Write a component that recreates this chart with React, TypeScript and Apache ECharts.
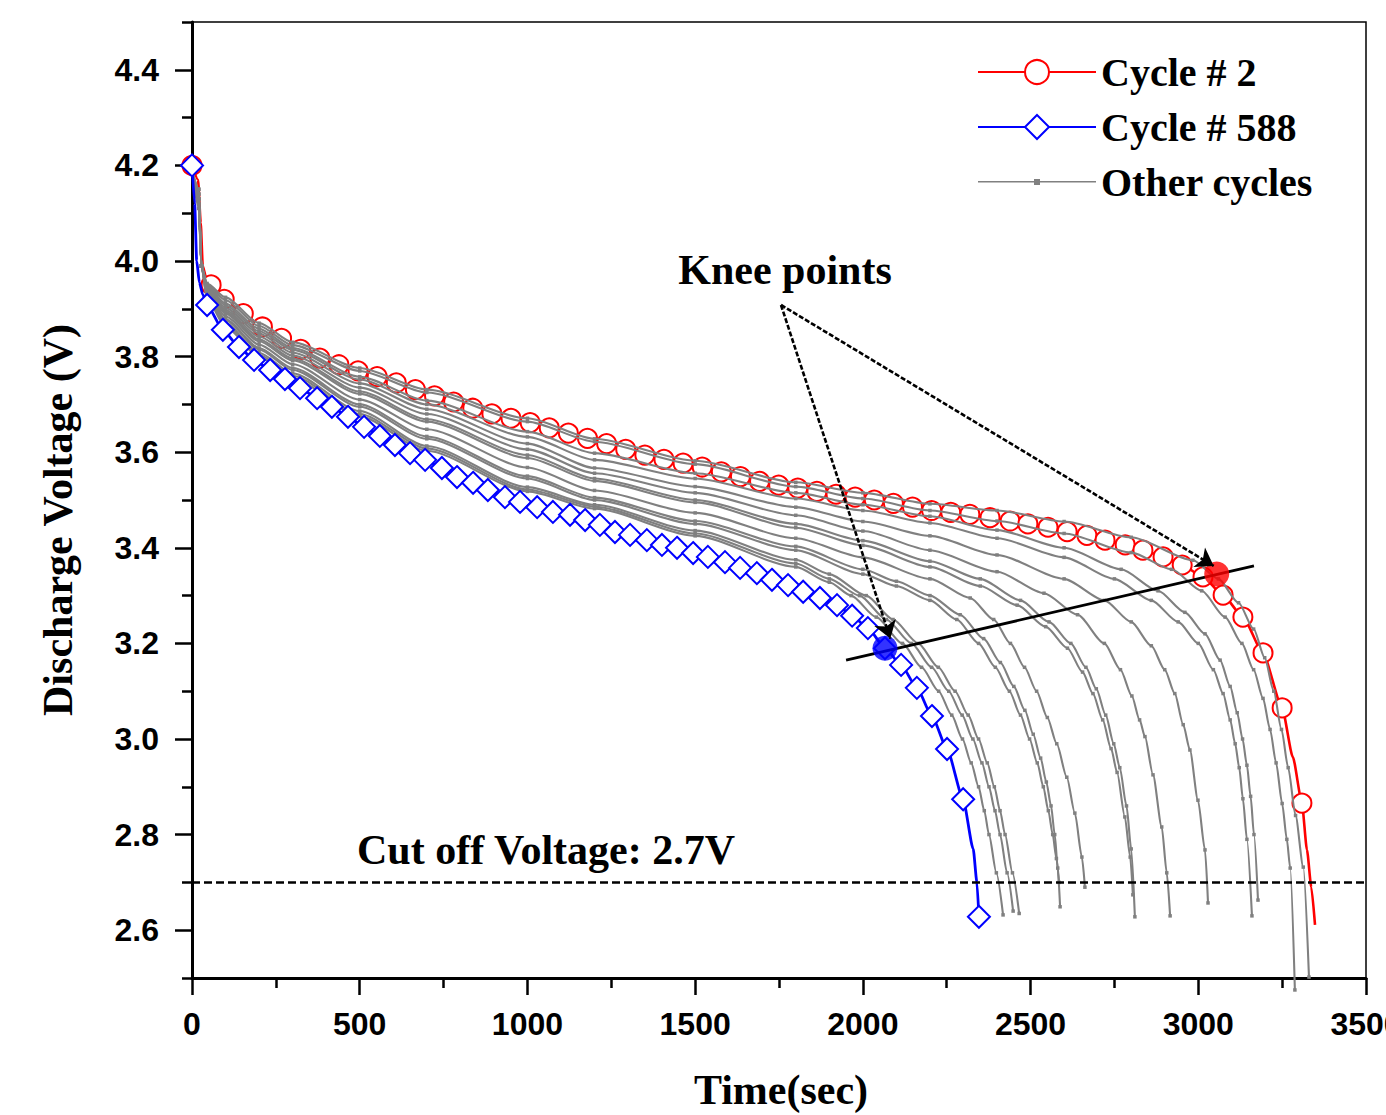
import React, { useEffect, useRef } from "react";
import * as echarts from "echarts";

// ---------- axis ticks ----------
const xTicks = [0, 500, 1000, 1500, 2000, 2500, 3000, 3500];
const yMajorTicks = [2.6, 2.8, 3.0, 3.2, 3.4, 3.6, 3.8, 4.0, 4.2, 4.4];
const yMinorTicks = [2.5, 2.7, 2.9, 3.1, 3.3, 3.5, 3.7, 3.9, 4.1, 4.3, 4.5];

// ---------- Cycle # 2 (time s, voltage V) ----------
const cycle2: number[][] = [
  [0, 4.2], [18, 4.17], [26, 4.08], [32, 3.99], [42, 3.965], [57, 3.95], [96, 3.92], [153, 3.89],
  [210, 3.862], [267, 3.838], [324, 3.815], [381, 3.797], [438, 3.783], [495, 3.77], [552, 3.758],
  [609, 3.745], [666, 3.731], [723, 3.718], [780, 3.705], [837, 3.692], [894, 3.68], [951, 3.671],
  [1008, 3.662], [1065, 3.651], [1122, 3.64], [1179, 3.629], [1236, 3.618], [1293, 3.606],
  [1350, 3.594], [1407, 3.585], [1464, 3.577], [1521, 3.569], [1578, 3.559], [1635, 3.549],
  [1692, 3.539], [1749, 3.531], [1806, 3.525], [1863, 3.518], [1920, 3.512], [1977, 3.506],
  [2034, 3.5], [2091, 3.493], [2148, 3.485], [2205, 3.478], [2262, 3.474], [2319, 3.47],
  [2379, 3.463], [2439, 3.456], [2492, 3.45], [2552, 3.443], [2609, 3.434], [2668, 3.426],
  [2722, 3.416], [2782, 3.406], [2835, 3.395], [2895, 3.381], [2952, 3.364], [3014, 3.339],
  [3074, 3.301], [3133, 3.255], [3193, 3.18], [3250, 3.065], [3282, 2.962], [3309, 2.866],
  [3324, 2.768], [3337, 2.69], [3348, 2.611],
];
const cycle2NoMarker = [18, 26, 32, 42, 3282, 3324, 3337, 3348];

// ---------- Cycle # 588 ----------
const cycle588: number[][] = [
  [0, 4.2], [8, 4.12], [14, 4.0], [22, 3.955], [32, 3.93], [45, 3.908], [92, 3.856], [140, 3.82],
  [185, 3.793], [233, 3.772], [277, 3.753], [322, 3.734], [373, 3.713], [417, 3.695], [465, 3.674],
  [513, 3.653], [560, 3.634], [605, 3.615], [650, 3.598], [695, 3.584], [745, 3.567], [790, 3.548],
  [838, 3.536], [882, 3.521], [933, 3.506], [978, 3.496], [1029, 3.485], [1076, 3.475],
  [1127, 3.469], [1172, 3.458], [1216, 3.448], [1261, 3.433], [1306, 3.427], [1356, 3.416],
  [1401, 3.406], [1446, 3.4], [1494, 3.389], [1538, 3.381], [1589, 3.37], [1634, 3.358],
  [1684, 3.347], [1729, 3.333], [1777, 3.322], [1822, 3.308], [1872, 3.295], [1923, 3.28],
  [1968, 3.258], [2015, 3.232], [2066, 3.19], [2114, 3.155], [2161, 3.107], [2206, 3.048],
  [2251, 2.979], [2299, 2.874], [2329, 2.77], [2340, 2.7], [2346, 2.628],
];
const cycle588NoMarker = [8, 14, 22, 32, 2329, 2340];

// ---------- Other cycles ----------
const other01 = [[0, 4.19], [20, 4.11], [28, 3.99], [45, 3.92], [100, 3.862], [200, 3.8], [300, 3.755], [500, 3.675], [700, 3.603], [1000, 3.518], [1200, 3.482], [1500, 3.425], [1800, 3.36], [1900, 3.328], [1965, 3.3], [2040, 3.255], [2118, 3.2], [2175, 3.15], [2226, 3.1], [2265, 3.05], [2297, 3.0], [2323, 2.95], [2345, 2.9], [2362, 2.85], [2376, 2.8], [2398, 2.72], [2418, 2.632]];
const other02 = [[0, 4.19], [20, 4.12], [28, 3.99], [45, 3.922], [100, 3.866], [200, 3.804], [300, 3.76], [500, 3.68], [700, 3.608], [1000, 3.522], [1200, 3.486], [1500, 3.43], [1800, 3.367], [1900, 3.335], [1990, 3.3], [2070, 3.25], [2145, 3.2], [2205, 3.15], [2256, 3.1], [2296, 3.05], [2328, 3.0], [2355, 2.95], [2376, 2.9], [2394, 2.85], [2409, 2.8], [2430, 2.72], [2448, 2.64]];
const other03 = [[0, 4.19], [20, 4.12], [28, 3.99], [45, 3.924], [100, 3.87], [200, 3.808], [300, 3.765], [500, 3.686], [700, 3.613], [1000, 3.527], [1200, 3.49], [1500, 3.436], [1800, 3.375], [1900, 3.345], [2010, 3.3], [2090, 3.25], [2165, 3.2], [2225, 3.15], [2275, 3.1], [2314, 3.05], [2345, 3.0], [2371, 2.95], [2392, 2.9], [2409, 2.85], [2424, 2.8], [2446, 2.72], [2466, 2.635]];
const other04 = [[0, 4.19], [20, 4.13], [28, 3.99], [45, 3.928], [100, 3.876], [200, 3.815], [300, 3.772], [500, 3.695], [700, 3.628], [1000, 3.545], [1200, 3.5], [1500, 3.45], [1800, 3.395], [2000, 3.345], [2100, 3.32], [2200, 3.29], [2280, 3.25], [2345, 3.2], [2395, 3.15], [2437, 3.1], [2470, 3.05], [2497, 3.0], [2520, 2.95], [2538, 2.9], [2553, 2.85], [2566, 2.8], [2577, 2.75], [2585, 2.7]];
const other05 = [[0, 4.19], [20, 4.13], [28, 3.99], [45, 3.93], [100, 3.878], [200, 3.818], [300, 3.776], [500, 3.7], [700, 3.633], [1000, 3.55], [1200, 3.505], [1500, 3.456], [1800, 3.403], [2000, 3.355], [2100, 3.33], [2200, 3.3], [2290, 3.26], [2360, 3.21], [2410, 3.16], [2450, 3.11], [2483, 3.06], [2508, 3.01], [2530, 2.96], [2547, 2.91], [2561, 2.86], [2572, 2.8], [2581, 2.73], [2588, 2.649]];
const other06 = [[0, 4.19], [20, 4.13], [28, 3.99], [45, 3.933], [100, 3.884], [200, 3.825], [300, 3.784], [500, 3.71], [700, 3.648], [1000, 3.568], [1200, 3.52], [1500, 3.473], [1800, 3.42], [2000, 3.38], [2200, 3.335], [2320, 3.295], [2390, 3.25], [2440, 3.2], [2482, 3.15], [2518, 3.1], [2550, 3.045], [2578, 2.99], [2608, 2.92], [2632, 2.845], [2653, 2.753], [2662, 2.69]];
const other07 = [[0, 4.19], [20, 4.13], [28, 3.99], [45, 3.936], [100, 3.89], [200, 3.832], [300, 3.792], [500, 3.722], [700, 3.664], [1000, 3.588], [1200, 3.54], [1500, 3.495], [1800, 3.442], [2000, 3.405], [2200, 3.36], [2350, 3.32], [2460, 3.28], [2545, 3.235], [2610, 3.19], [2655, 3.14], [2686, 3.095], [2715, 3.04], [2740, 2.98], [2758, 2.93], [2781, 2.837], [2797, 2.753], [2805, 2.674]];
const other08 = [[0, 4.19], [20, 4.13], [28, 3.99], [45, 3.938], [100, 3.893], [200, 3.836], [300, 3.796], [500, 3.727], [700, 3.669], [1000, 3.594], [1200, 3.545], [1500, 3.5], [1800, 3.45], [2000, 3.415], [2200, 3.372], [2350, 3.335], [2470, 3.29], [2555, 3.245], [2620, 3.2], [2665, 3.15], [2696, 3.105], [2724, 3.05], [2748, 2.99], [2766, 2.94], [2786, 2.86], [2800, 2.77], [2811, 2.628]];
const other09 = [[0, 4.19], [20, 4.14], [28, 3.99], [45, 3.94], [100, 3.897], [200, 3.842], [300, 3.802], [500, 3.735], [700, 3.68], [1000, 3.606], [1200, 3.556], [1500, 3.515], [1800, 3.468], [2000, 3.435], [2200, 3.395], [2400, 3.35], [2540, 3.305], [2640, 3.26], [2720, 3.2], [2768, 3.145], [2802, 3.09], [2825, 3.04], [2841, 3.005], [2865, 2.925], [2891, 2.816], [2906, 2.72], [2916, 2.63]];
const other10 = [[0, 4.19], [20, 4.14], [28, 3.99], [45, 3.942], [100, 3.902], [200, 3.848], [300, 3.808], [500, 3.744], [700, 3.69], [1000, 3.618], [1200, 3.567], [1500, 3.528], [1800, 3.485], [2000, 3.455], [2200, 3.425], [2400, 3.385], [2600, 3.335], [2720, 3.29], [2800, 3.245], [2860, 3.195], [2900, 3.145], [2930, 3.095], [2955, 3.03], [2975, 2.977], [2999, 2.872], [3020, 2.768], [3029, 2.657]];
const other11 = [[0, 4.19], [20, 4.14], [28, 3.99], [45, 3.945], [100, 3.907], [200, 3.853], [300, 3.814], [500, 3.752], [700, 3.7], [1000, 3.632], [1200, 3.584], [1500, 3.545], [1800, 3.503], [2000, 3.478], [2200, 3.452], [2400, 3.42], [2600, 3.38], [2750, 3.335], [2860, 3.29], [2940, 3.245], [3000, 3.2], [3045, 3.145], [3074, 3.095], [3095, 3.04], [3110, 2.99], [3122, 2.94], [3133, 2.875], [3145, 2.79], [3160, 2.63]];
const other12 = [[0, 4.19], [20, 4.15], [28, 3.99], [45, 3.947], [100, 3.911], [200, 3.858], [300, 3.818], [500, 3.758], [700, 3.708], [1000, 3.643], [1200, 3.598], [1500, 3.556], [1800, 3.515], [2000, 3.49], [2200, 3.466], [2400, 3.437], [2600, 3.4], [2770, 3.355], [2880, 3.31], [2960, 3.265], [3020, 3.22], [3065, 3.165], [3095, 3.11], [3116, 3.055], [3132, 3.0], [3145, 2.945], [3156, 2.88], [3166, 2.8], [3178, 2.663]];
const other13 = [[0, 4.19], [20, 4.15], [28, 3.99], [45, 3.95], [100, 3.918], [200, 3.864], [300, 3.824], [500, 3.77], [700, 3.725], [1000, 3.664], [1200, 3.622], [1500, 3.575], [1800, 3.528], [2000, 3.503], [2200, 3.478], [2400, 3.456], [2600, 3.43], [2800, 3.39], [2920, 3.355], [3010, 3.31], [3080, 3.255], [3130, 3.2], [3165, 3.145], [3193, 3.085], [3214, 3.02], [3232, 2.95], [3250, 2.865], [3264, 2.79], [3274, 2.73], [3288, 2.475]];
const other14 = [[0, 4.19], [20, 4.15], [28, 3.99], [45, 3.953], [100, 3.924], [200, 3.87], [300, 3.83], [500, 3.776], [700, 3.731], [1000, 3.671], [1200, 3.628], [1500, 3.582], [1800, 3.537], [2000, 3.515], [2200, 3.492], [2400, 3.478], [2600, 3.455], [2800, 3.422], [2984, 3.374], [3060, 3.335], [3120, 3.285], [3165, 3.23], [3198, 3.17], [3225, 3.1], [3248, 3.02], [3268, 2.94], [3290, 2.84], [3313, 2.732], [3330, 2.502]];
const otherCycles = [other01, other02, other03, other04, other05, other06, other07, other08, other09, other10, other11, other12, other13, other14];

// ---------- annotations ----------
const kneeCycle2 = [[3055, 3.345]];
const kneeCycle588 = [[2066, 3.19]];
const cutoffVoltage = 2.7;
const kneeLine = [[1950, 3.165], [3166, 3.362]];
const arrowOrigin = [1756, 3.908];
const arrowTips = [[2082, 3.21], [3046, 3.362]];

const SERIF = '"Liberation Serif", "Times New Roman", serif';
const SANS = '"Liberation Sans", Arial, sans-serif';

export default function App() {
  const ref = useRef<HTMLDivElement>(null);

  useEffect(() => {
    if (!ref.current) return;
    const chart = echarts.init(ref.current, undefined, { renderer: "svg" });

    const withMarkers = (pts: number[][], hidden: number[]) =>
      pts.map(([t, v]) => (hidden.includes(t) ? { value: [t, v], symbol: "none" } : [t, v]));

    const graySeries = otherCycles.map((pts) => ({
      name: "Other cycles",
      type: "line",
      data: pts,
      smooth: 0.25,
      smoothMonotone: "x",
      symbol: "rect",
      symbolSize: 3.5,
      showAllSymbol: true,
      clip: false,
      z: 3,
      lineStyle: { color: "#808080", width: 2.1 },
      itemStyle: { color: "#808080" },
    }));

    const arrowStyle = { color: "#000", width: 2.6, type: [5, 2] };

    const option: any = {
      animation: false,
      backgroundColor: "#ffffff",
      grid: {
        left: 192,
        right: 20,
        top: 22,
        bottom: 137,
        outerBoundsMode: "none",
        containLabel: false,
        show: true,
        borderColor: "#000",
        borderWidth: 1.5,
        backgroundColor: "transparent",
      },
      legend: {
        orient: "vertical",
        left: 972,
        top: 45,
        itemWidth: 118,
        itemHeight: 30,
        itemGap: 11,
        selectedMode: false,
        textStyle: {
          fontFamily: SERIF,
          fontWeight: "bold",
          fontSize: 40,
          color: "#000",
          lineHeight: 44,
        },
        data: [
          { name: "Cycle # 2" },
          { name: "Cycle # 588" },
          {
            name: "Other cycles",
            icon: "path://M0,14 L118,14 L118,15.4 L0,15.4 Z M56,12 L62,12 L62,18 L56,18 Z",
          },
        ],
      },
      xAxis: {
        type: "value",
        min: 0,
        max: 3500,
        interval: 500,
        axisLine: { show: true, lineStyle: { color: "#000", width: 3 } },
        axisTick: { show: true, length: 17, lineStyle: { color: "#000", width: 2.5 } },
        minorTick: { show: true, splitNumber: 2, length: 10, lineStyle: { color: "#000", width: 2.5 } },
        axisLabel: {
          customValues: xTicks,
          formatter: (v: number) => String(v),
          margin: 30,
          fontFamily: SANS,
          fontWeight: "bold",
          fontSize: 32,
          color: "#000",
        },
        splitLine: { show: false },
        minorSplitLine: { show: false },
      },
      yAxis: [
        {
          type: "value",
          min: 2.5,
          max: 4.5,
          position: "left",
          axisLine: { show: true, lineStyle: { color: "#000", width: 3 } },
          axisTick: { show: true, customValues: yMajorTicks, length: 17, lineStyle: { color: "#000", width: 2.5 } },
          axisLabel: {
            customValues: yMajorTicks,
            formatter: (v: number) => v.toFixed(1),
            margin: 33,
            fontFamily: SANS,
            fontWeight: "bold",
            fontSize: 32,
            color: "#000",
          },
          splitLine: { show: false },
        },
        {
          type: "value",
          min: 2.5,
          max: 4.5,
          position: "left",
          axisLine: { show: false },
          axisTick: { show: true, customValues: yMinorTicks, length: 10, lineStyle: { color: "#000", width: 2.5 } },
          axisLabel: { show: false },
          splitLine: { show: false },
        },
      ],
      graphic: [
        {
          type: "text",
          x: 58,
          y: 520,
          rotation: Math.PI / 2,
          style: {
            text: "Discharge Voltage (V)",
            fontFamily: SERIF,
            fontWeight: "bold",
            fontSize: 42,
            fill: "#000",
            align: "center",
            verticalAlign: "middle",
          },
        },
        {
          type: "text",
          x: 781,
          y: 1090,
          style: {
            text: "Time(sec)",
            fontFamily: SERIF,
            fontWeight: "bold",
            fontSize: 42,
            fill: "#000",
            align: "center",
            verticalAlign: "middle",
          },
        },
        {
          type: "text",
          x: 785,
          y: 270,
          z: 20,
          style: {
            text: "Knee points",
            fontFamily: SERIF,
            fontWeight: "bold",
            fontSize: 42,
            fill: "#000",
            align: "center",
            verticalAlign: "middle",
          },
        },
        {
          type: "text",
          x: 546,
          y: 850,
          z: 20,
          style: {
            text: "Cut off Voltage: 2.7V",
            fontFamily: SERIF,
            fontWeight: "bold",
            fontSize: 42,
            fill: "#000",
            align: "center",
            verticalAlign: "middle",
          },
        },
      ],
      series: [
        {
          name: "Cycle # 2",
          type: "line",
          data: withMarkers(cycle2, cycle2NoMarker),
          smooth: 0.2,
          smoothMonotone: "x",
          symbol: "emptyCircle",
          symbolSize: 19,
          showAllSymbol: true,
          clip: false,
          z: 2,
          lineStyle: { color: "#ff0000", width: 2.6 },
          itemStyle: { color: "#ff0000", borderColor: "#ff0000", borderWidth: 1.3 },
        },
        {
          name: "Cycle # 588",
          type: "line",
          data: withMarkers(cycle588, cycle588NoMarker),
          smooth: 0.2,
          smoothMonotone: "x",
          symbol: "emptyDiamond",
          symbolSize: 22,
          showAllSymbol: true,
          clip: false,
          z: 4,
          lineStyle: { color: "#0000ff", width: 2.8 },
          itemStyle: { color: "#0000ff", borderColor: "#0000ff", borderWidth: 1.5 },
        },
        ...graySeries,
        {
          name: "knee588",
          type: "scatter",
          data: kneeCycle588,
          symbol: "circle",
          symbolSize: 25,
          z: 6,
          itemStyle: { color: "#0000ff" },
          markLine: {
            silent: true,
            symbol: ["none", "none"],
            label: { show: false },
            data: [
              { yAxis: cutoffVoltage, lineStyle: { color: "#000", width: 2.5, type: [8, 4] } },
              [
                { coord: kneeLine[0], lineStyle: { color: "#000", width: 2.8, type: "solid" } },
                { coord: kneeLine[1] },
              ],
            ],
          },
        },
        {
          name: "knee2",
          type: "scatter",
          data: kneeCycle2,
          symbol: "circle",
          symbolSize: 25,
          z: 6,
          itemStyle: { color: "#ff0000" },
        },
        {
          name: "arrows",
          type: "scatter",
          data: [],
          z: 10,
          markLine: {
            silent: true,
            z: 10,
            symbol: ["none", "arrow"],
            symbolSize: 17,
            label: { show: false },
            lineStyle: arrowStyle,
            data: [
              [{ coord: arrowOrigin, lineStyle: arrowStyle }, { coord: arrowTips[0] }],
              [{ coord: arrowOrigin, lineStyle: arrowStyle }, { coord: arrowTips[1] }],
            ],
          },
        },
      ],
    };

    chart.setOption(option);
    return () => chart.dispose();
  }, []);

  return (
    <div
      ref={ref}
      style={{ position: "fixed", left: 0, top: 0, width: 1386, height: 1115, background: "#fff" }}
    />
  );
}
